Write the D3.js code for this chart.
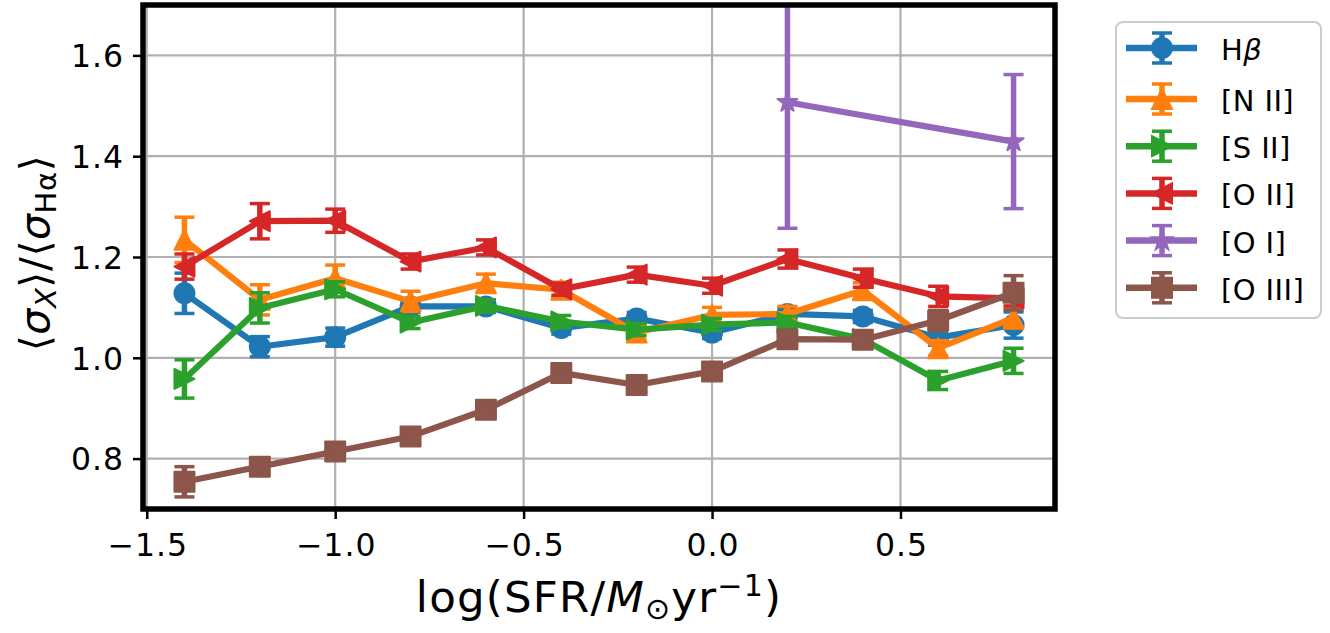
<!DOCTYPE html>
<html><head><meta charset="utf-8">
<script src="https://cdn.jsdelivr.net/npm/d3@7"></script>
<style>body{margin:0;background:#fff;} text{font-family:"DejaVu Sans";fill:#000;}</style>
</head><body><svg id="c" width="1330" height="633"></svg>
<script>
// ---- data ----
const sfr = [-1.4,-1.2,-1.0,-0.8,-0.6,-0.4,-0.2,0.0,0.2,0.4,0.6,0.8];
const hbeta    = [1.128,1.022,1.041,1.102,1.102,1.059,1.078,1.050,1.087,1.082,1.040,1.065];
const hbetaErr = [0.040,0.020,0.018,0.012,0.012,0.012,0.012,0.012,0.012,0.012,0.015,0.026];
const nii      = [1.234,1.115,1.158,1.112,1.148,1.135,1.050,1.085,1.087,1.134,1.019,1.079];
const niiErr   = [0.045,0.030,0.026,0.020,0.018,0.015,0.015,0.015,0.015,0.015,0.015,0.020];
const sii      = [0.958,1.099,1.136,1.070,1.103,1.072,1.056,1.066,1.070,1.037,0.955,0.994];
const siiErr   = [0.038,0.030,0.015,0.012,0.012,0.012,0.012,0.012,0.012,0.012,0.018,0.025];
const oii      = [1.181,1.271,1.272,1.191,1.219,1.136,1.165,1.143,1.196,1.158,1.122,1.118];
const oiiErr   = [0.025,0.035,0.023,0.015,0.015,0.012,0.015,0.015,0.018,0.018,0.020,0.015];
const oi       = [null,null,null,null,null,null,null,null,1.507,null,null,1.429];
const oiErr    = [null,null,null,null,null,null,null,null,0.250,null,null,0.133];
const oiii     = [0.754,0.784,0.814,0.844,0.897,0.970,0.946,0.973,1.037,1.036,1.074,1.129];
const oiiiErr  = [0.030,0.012,0.012,0.012,0.012,0.012,0.012,0.012,0.012,0.012,0.020,0.034];
const seriesNames = ["Hβ","[N II]","[S II]","[O II]","[O I]","[O III]"];
const seriesColors = ["#1f77b4","#ff7f0e","#2ca02c","#d62728","#9467bd","#8c564b"];
const seriesMarkers = ["circle","triUp","triRight","triLeft","star","square"];
const xTicks = [-1.5,-1.0,-0.5,0.0,0.5];
const yTicks = [0.8,1.0,1.2,1.4,1.6];
const xDomain = [-1.51, 0.91];
const yDomain = [0.7, 1.7];

const series = [
  {name:seriesNames[0], v:hbeta, e:hbetaErr},
  {name:seriesNames[1], v:nii, e:niiErr},
  {name:seriesNames[2], v:sii, e:siiErr},
  {name:seriesNames[3], v:oii, e:oiiErr},
  {name:seriesNames[4], v:oi, e:oiErr},
  {name:seriesNames[5], v:oiii, e:oiiiErr},
].map((s,i)=>({...s, color:seriesColors[i], marker:seriesMarkers[i],
  pts: sfr.map((x,j)=>({x, y:s.v[j], e:s.e[j]})).filter(p=>p.y!=null)}));

// ---- layout ----
const L=143, R=1055, T=5, B=509;
const svg = d3.select("#c");
const x = d3.scaleLinear().domain(xDomain).range([L,R]);
const y = d3.scaleLinear().domain(yDomain).range([B,T]);

const MS = 20;
function markerPath(type, s){
  const h=s/2;
  if(type==="circle") return `M${h},0A${h},${h} 0 1,1 ${-h},0A${h},${h} 0 1,1 ${h},0Z`;
  if(type==="square") return `M${-h},${-h}H${h}V${h}H${-h}Z`;
  if(type==="triUp") return `M0,${-h}L${h},${h}L${-h},${h}Z`;
  if(type==="triRight") return `M${h},0L${-h},${h}L${-h},${-h}Z`;
  if(type==="triLeft") return `M${-h},0L${h},${-h}L${h},${h}Z`;
  if(type==="star"){
    const ro=h*1.05, ri=ro*0.381966; let p="";
    for(let k=0;k<10;k++){const r=k%2?ri:ro; const a=-Math.PI/2+k*Math.PI/5;
      p+=(k?"L":"M")+(r*Math.cos(a)).toFixed(2)+","+(r*Math.sin(a)).toFixed(2);}
    return p+"Z";
  }
}

// grid
svg.append("defs").append("clipPath").attr("id","clip")
  .append("rect").attr("x",L).attr("y",T).attr("width",R-L).attr("height",B-T);
const grid = svg.append("g");
grid.selectAll(".gx").data(xTicks).join("line")
  .attr("x1",d=>x(d)).attr("x2",d=>x(d)).attr("y1",T).attr("y2",B)
  .attr("stroke","#b0b0b0").attr("stroke-width",2.2);
grid.selectAll(".gy").data(yTicks).join("line")
  .attr("x1",L).attr("x2",R).attr("y1",d=>y(d)).attr("y2",d=>y(d))
  .attr("stroke","#b0b0b0").attr("stroke-width",2.2);

// series
const plot = svg.append("g").attr("clip-path","url(#clip)");
const line = d3.line().x(d=>x(d.x)).y(d=>y(d.y));
series.forEach(s=>{
  const g = plot.append("g");
  g.append("path").attr("d",line(s.pts)).attr("fill","none")
    .attr("stroke",s.color).attr("stroke-width",6.2).attr("stroke-linejoin","round");
  g.selectAll(".m").data(s.pts).join("path")
    .attr("transform",d=>`translate(${x(d.x)},${y(d.y)})`)
    .attr("d",markerPath(s.marker,MS)).attr("fill",s.color)
    .attr("stroke",s.color).attr("stroke-width",2).attr("stroke-linejoin","round");
  g.selectAll(".eb").data(s.pts).join("line")
    .attr("x1",d=>x(d.x)).attr("x2",d=>x(d.x))
    .attr("y1",d=>y(d.y-d.e)).attr("y2",d=>y(d.y+d.e))
    .attr("stroke",s.color).attr("stroke-width",5.5);
  ["lo","hi"].forEach(k=>{
    g.selectAll(".cap"+k).data(s.pts).join("line")
      .attr("x1",d=>x(d.x)-10).attr("x2",d=>x(d.x)+10)
      .attr("y1",d=>y(k==="lo"?d.y-d.e:d.y+d.e)).attr("y2",d=>y(k==="lo"?d.y-d.e:d.y+d.e))
      .attr("stroke",s.color).attr("stroke-width",3.5);
  });
});

// axes
const fmt = d=>d3.format(".1f")(d).replace("-","−");
const xAxis = svg.append("g").attr("transform",`translate(0,${B})`)
  .call(d3.axisBottom(x).tickValues(xTicks).tickFormat(fmt).tickSize(10).tickPadding(8));
const yAxis = svg.append("g").attr("transform",`translate(${L},0)`)
  .call(d3.axisLeft(y).tickValues(yTicks).tickFormat(fmt).tickSize(10).tickPadding(10));
[xAxis,yAxis].forEach(a=>{
  a.select(".domain").remove();
  a.selectAll(".tick line").attr("stroke","#000").attr("stroke-width",2.5);
  a.selectAll(".tick text").attr("font-family","DejaVu Sans").attr("font-size",31.5)
    .attr("letter-spacing","1px").attr("fill","#000");
});
xAxis.selectAll(".tick text").attr("dy","0.92em").attr("dx","0.5");
yAxis.selectAll(".tick text").attr("dy","0.36em").attr("dx","1");

// spines
svg.append("rect").attr("x",L).attr("y",T).attr("width",R-L).attr("height",B-T)
  .attr("fill","none").attr("stroke","#000").attr("stroke-width",5.5);

// x label
const xl = svg.append("text").attr("x",(L+R)/2).attr("y",612).attr("text-anchor","middle")
  .attr("font-size",43.5).attr("letter-spacing","1.2px");
xl.append("tspan").text("log(SFR/");
xl.append("tspan").attr("font-style","italic").text("M");
xl.append("tspan").attr("font-size",30).attr("dy",7).text("⊙");
xl.append("tspan").attr("font-size",43.5).attr("dy",-7).text("yr");
xl.append("tspan").attr("font-size",30).attr("dy",-16).text("−1");
xl.append("tspan").attr("font-size",43.5).attr("dy",16).text(")");

// y label
const yl = svg.append("text").attr("transform",`translate(49,${(T+B)/2-4}) rotate(-90)`)
  .attr("text-anchor","middle").attr("font-size",41).attr("letter-spacing","0.6px");
yl.append("tspan").text("⟨");
yl.append("tspan").attr("font-style","italic").text("σ");
yl.append("tspan").attr("font-style","italic").attr("font-size",29).attr("dy",7).text("X");
yl.append("tspan").attr("font-size",41).attr("dy",-7).text("⟩/⟨");
yl.append("tspan").attr("font-style","italic").text("σ");
yl.append("tspan").attr("font-size",29).attr("dy",7).text("Hα");
yl.append("tspan").attr("font-size",41).attr("dy",-7).text("⟩");

// legend
const lg = svg.append("g");
lg.append("rect").attr("x",1116).attr("y",22).attr("width",205).attr("height",296).attr("rx",7)
  .attr("fill","#fff").attr("fill-opacity",0.8).attr("stroke","#cccccc").attr("stroke-width",2);
series.forEach((s,i)=>{
  const ry = i===0 ? 48 : 99 + (i-1)*47.2;
  const g = lg.append("g").attr("transform",`translate(0,${ry})`);
  g.append("line").attr("x1",1126).attr("x2",1197).attr("y1",0).attr("y2",0)
    .attr("stroke",s.color).attr("stroke-width",6.5);
  g.append("path").attr("transform","translate(1162,0)").attr("d",markerPath(s.marker,MS))
    .attr("fill",s.color).attr("stroke",s.color).attr("stroke-width",2);
  g.append("line").attr("x1",1162).attr("x2",1162).attr("y1",-15).attr("y2",15)
    .attr("stroke",s.color).attr("stroke-width",5.5);
  [-15,15].forEach(c=>g.append("line").attr("x1",1152).attr("x2",1172).attr("y1",c).attr("y2",c)
    .attr("stroke",s.color).attr("stroke-width",3.5));
  const t = g.append("text").attr("x",1221).attr("y",12).attr("font-size",29).attr("letter-spacing","0.4px");
  if(i===0){ t.append("tspan").text("H"); t.append("tspan").attr("font-style","italic").text("β"); }
  else t.text(s.name);
});
</script></body></html>
